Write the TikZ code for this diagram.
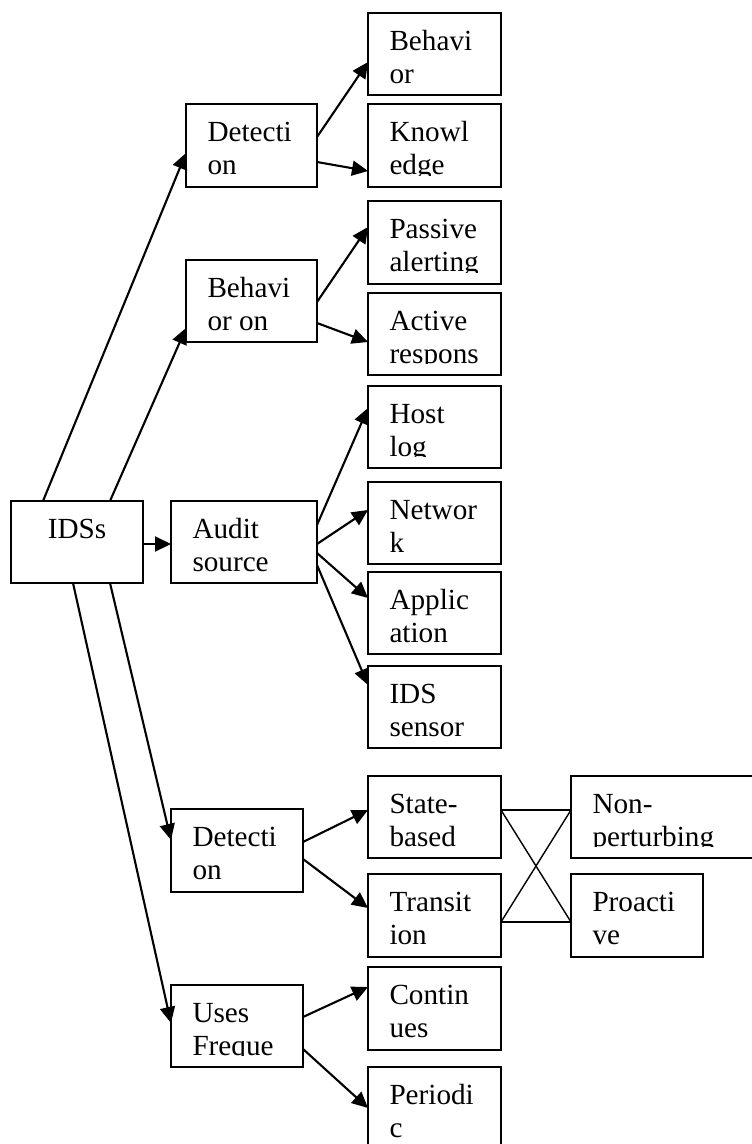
\documentclass[tikz,border=0pt]{standalone}
\usepackage{fontspec}
\setmainfont{Liberation Serif}
\usetikzlibrary{arrows.meta}
\tikzset{
  box/.style={draw=black, line width=2pt, inner sep=0pt, outer sep=0pt, rectangle},
  txt/.style={inner sep=0pt, outer sep=0pt, font=\fontsize{29.2}{33}\selectfont, text=black},
  arr/.style={line width=2.1pt, -{Triangle[length=16pt,width=15pt]}},
  thin/.style={line width=1.4pt},
}
\newcommand\bx[7]{%
  \node[box, minimum width=#4pt, minimum height=#5pt, anchor=north west] (#1) at (#2,#3) {};
  \begin{scope}
    \clip (#2,#3) rectangle ++(#4,#5-12);
    \node[txt, anchor=base west] (#1t1) at (#2+21.5,#3+37.7) {#6};
    \node[txt, anchor=base west] (#1t2) at (#2+21.5,#3+70.7) {#7};
  \end{scope}
}
\begin{document}
\begin{tikzpicture}[x=1pt,y=-1pt]
\useasboundingbox (0,0) rectangle (752,1144);
\clip (0,0) rectangle (752,1144);
\fill[white] (0,0) rectangle (752,1144);
% root
\node[box, minimum width=132pt, minimum height=82pt, anchor=north west] (ids) at (11,501) {};
\node[txt, anchor=base] (idst) at (77,538) {IDSs};
% second level
\bx{det1}{186}{104}{131}{83}{Detecti}{on}
\bx{beh1}{186}{260}{131}{82}{Behavi}{or on}
\bx{aud}{171}{501}{146}{82}{Audit}{source}
\bx{det2}{171}{809}{132}{83}{Detecti}{on}
\bx{uses}{171}{985}{132}{82}{Uses}{Freque}
% third level
\bx{b}{368}{13}{133}{82}{Behavi}{or}
\bx{k}{368}{104}{133}{83}{Knowl}{edge}
\bx{pa}{368}{201}{133}{83}{Passive}{alerting}
\bx{ar}{368}{293}{133}{82}{Active}{respons}
\bx{hl}{368}{386}{133}{82}{Host}{log}
\bx{nw}{368}{482}{133}{82}{Networ}{k}
\bx{ap}{368}{572}{133}{82}{Applic}{ation}
\bx{is}{368}{666}{133}{82}{IDS}{sensor}
\bx{sb}{368}{776}{133}{82}{State-}{based}
\bx{tr}{368}{874}{133}{83}{Transit}{ion}
\bx{co}{368}{967}{133}{83}{Contin}{ues}
\bx{pe}{368}{1067}{133}{100}{Periodi}{c}
% fourth level
\bx{np}{571}{776}{200}{82}{Non-}{perturbing}
\bx{pr}{571}{874}{132}{83}{Proacti}{ve}
% connectors from root
\draw[arr] ([xshift=32pt]ids.north west) -- ([yshift=-49pt]det1.north west);
\draw[arr] ([xshift=99pt]ids.north west) -- ([yshift=-68pt]beh1.north west);
\draw[arr] ([yshift=-43pt]ids.north east) -- ([yshift=-43pt]aud.north west);
\draw[arr] ([xshift=99pt]ids.south west) -- ([yshift=-31pt]det2.north west);
\draw[arr] ([xshift=62pt]ids.south west) -- ([yshift=-38pt]uses.north west);
% detection (top)
\draw[arr] ([yshift=-33pt]det1.north east) -- ([yshift=-49pt]b.north west);
\draw[arr] ([yshift=-58pt]det1.north east) -- ([yshift=-67pt]k.north west);
% behavior on
\draw[arr] ([yshift=-42pt]beh1.north east) -- ([yshift=-26pt]pa.north west);
\draw[arr] ([yshift=-63pt]beh1.north east) -- ([yshift=-49pt]ar.north west);
% audit source
\draw[arr] ([yshift=-24pt]aud.north east) -- ([yshift=-22pt]hl.north west);
\draw[arr] ([yshift=-43pt]aud.north east) -- ([yshift=-28pt]nw.north west);
\draw[arr] ([yshift=-52pt]aud.north east) -- ([yshift=-26pt]ap.north west);
\draw[arr] ([yshift=-64pt]aud.north east) -- ([yshift=-19pt]is.north west);
% detection (bottom)
\draw[arr] ([yshift=-33pt]det2.north east) -- ([yshift=-34pt]sb.north west);
\draw[arr] ([yshift=-50pt]det2.north east) -- ([yshift=-34pt]tr.north west);
% uses frequency
\draw[arr] ([yshift=-32pt]uses.north east) -- ([yshift=-20pt]co.north west);
\draw[arr] ([yshift=-64pt]uses.north east) -- ([yshift=-41pt]pe.north west);
% crossing lines
\draw[thin] ([yshift=-34pt]sb.north east) -- ([yshift=-34pt]np.north west);
\draw[thin] ([yshift=-48pt]tr.north east) -- ([yshift=-48pt]pr.north west);
\draw[thin] ([yshift=-34pt]sb.north east) -- ([yshift=-48pt]pr.north west);
\draw[thin] ([yshift=-48pt]tr.north east) -- ([yshift=-34pt]np.north west);
\end{tikzpicture}
\end{document}
